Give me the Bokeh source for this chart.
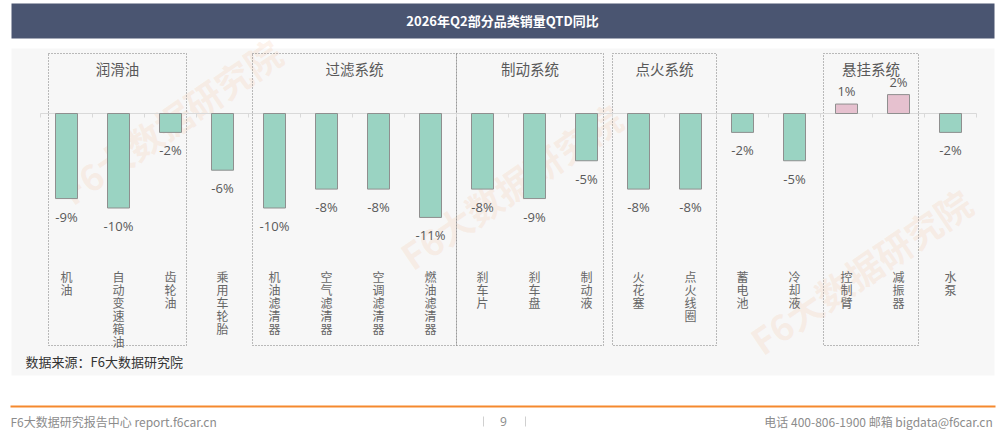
# 2026年Q2部分品类销量QTD同比 - bar chart recreated with Bokeh

from bokeh.plotting import figure
from bokeh.models import ColumnDataSource, Range1d
from bokeh.embed import file_html
from bokeh.resources import INLINE
from bokeh.core.properties import value

categories = ["机油", "自动变速箱油", "齿轮油", "乘用车轮胎", "机油滤清器", "空气滤清器",
              "空调滤清器", "燃油滤清器", "刹车片", "刹车盘", "制动液", "火花塞",
              "点火线圈", "蓄电池", "冷却液", "控制臂", "减振器", "水泵"]
yoy = [-9.0, -10.0, -2.0, -6.0, -10.0, -8.0, -8.0, -11.0, -8.0, -9.0, -5.0, -8.0,
       -8.0, -2.0, -5.0, 1.0, 2.0, -2.0]

group_names = ["润滑油", "过滤系统", "制动系统", "点火系统", "悬挂系统"]
group_first = [0, 4, 8, 11, 15]
group_last = [2, 7, 10, 12, 16]
# small hand-drawn insets of the boxes (px, left / right)
group_inset_l = [8, 4, 0, 0, 3]
group_inset_r = [10, 0, 9, 0, 6]

title = "2026年Q2部分品类销量QTD同比"
source_note = "数据来源：F6大数据研究院"
footer_left = "F6大数据研究报告中心 report.f6car.cn"
footer_right = "电话 400-806-1900  邮箱 bigdata@f6car.cn"
page_no = "9"
watermark = "F6大数据研究院"

W, H = 1000, 439
STEP = 52.0      # px per category
PCT = 9.45       # px per 1 %
X_FIRST = 66     # page x of first bar
Y_ZERO = 113     # page y of the zero line
CHAR_H = 13      # px per stacked character in the vertical labels
FONT = "Noto Sans CJK SC"


def fx(px):
    return (px - X_FIRST) / STEP


def fy(py):
    return (Y_ZERO - py) / PCT


p = figure(width=W, height=H, output_backend="svg", toolbar_location=None,
           x_range=Range1d(fx(0), fx(W)), y_range=Range1d(fy(H), fy(0)),
           min_border=0, outline_line_color=None, background_fill_color="white",
           border_fill_color="white")
p.axis.visible = False
p.grid.visible = False

# panel + title bar
p.quad(left=fx(11), right=fx(994), top=fy(48), bottom=fy(375),
       fill_color="#f7f7f7", line_color=None)
p.quad(left=fx(11), right=fx(994), top=fy(3), bottom=fy(38),
       fill_color="#4a5571", line_color=None)
p.text(x=[fx(502)], y=[fy(20)], text=[title], text_color="white",
       text_font=value(FONT), text_font_size="13px", text_font_style="bold",
       text_align="center", text_baseline="middle")

# watermarks
wm_x = [fx(170), fx(510), fx(860)]
wm_y = [fy(120), fy(185), fy(270)]
p.text(x=wm_x, y=wm_y, text=[watermark] * 3, angle=0.6,
       text_color="#f3b48a", text_alpha=0.17, text_font=value(FONT),
       text_font_size="36px", text_font_style="bold",
       text_align="center", text_baseline="middle")

# group boxes
gl = [f - 0.5 + il / STEP for f, il in zip(group_first, group_inset_l)]
gr = [l + 0.5 - ir / STEP for l, ir in zip(group_last, group_inset_r)]
p.quad(left=gl, right=gr, top=fy(53), bottom=fy(345), fill_color=None,
       line_color="#7a7a7a", line_width=1, line_dash="1 2")
p.text(x=[(a + b) / 2 for a, b in zip(gl, gr)], y=fy(68), text=group_names,
       text_color="#595959", text_font=value(FONT), text_font_size="14.5px",
       text_align="center", text_baseline="middle")

# zero axis with ticks between categories
n = len(categories)
p.segment(x0=-0.5, y0=0, x1=n - 0.5, y1=0, line_color="#d9d9d9", line_width=1)
p.segment(x0=[i - 0.5 for i in range(n + 1)], y0=0,
          x1=[i - 0.5 for i in range(n + 1)], y1=-4 / PCT,
          line_color="#d9d9d9", line_width=1)

# bars
xs = list(range(n))
colors = ["#e6c1cf" if v > 0 else "#9ad3c2" for v in yoy]
src = ColumnDataSource(dict(x=xs, top=yoy, color=colors))
p.vbar(x="x", top="top", bottom=0, width=22 / STEP, fill_color="color",
       line_color="#8f8f8f", line_width=1, source=src)

neg = ColumnDataSource(dict(x=[x for x, v in zip(xs, yoy) if v < 0],
                            y=[v for v in yoy if v < 0],
                            t=[f"{v:.0f}%" for v in yoy if v < 0]))
pos = ColumnDataSource(dict(x=[x for x, v in zip(xs, yoy) if v > 0],
                            y=[v for v in yoy if v > 0],
                            t=[f"{v:.0f}%" for v in yoy if v > 0]))
p.text(x="x", y="y", text="t", source=neg, y_offset=9, text_color="#595959",
       text_font=value("Open Sans"), text_font_size="13px",
       text_align="center", text_baseline="top")
p.text(x="x", y="y", text="t", source=pos, y_offset=-4, text_color="#595959",
       text_font=value("Open Sans"), text_font_size="13px",
       text_align="center", text_baseline="bottom")

# vertical category labels, one character per row
cx, cy, ct = [], [], []
for i, name in enumerate(categories):
    for k, ch in enumerate(name):
        cx.append(i)
        cy.append(fy(267 + CHAR_H * k))
        ct.append(ch)
p.text(x=cx, y=cy, text=ct, text_color="#666666", text_font=value(FONT),
       text_font_size="12px", text_align="center", text_baseline="top")

# source note
p.text(x=[fx(25)], y=[fy(361)], text=[source_note], text_color="#333333",
       text_font=value(FONT), text_font_size="13px",
       text_align="left", text_baseline="middle")

# footer
p.segment(x0=fx(10), y0=fy(406), x1=fx(995), y1=fy(406),
          line_color="#f5892e", line_width=2)
p.text(x=[fx(10)], y=[fy(421)], text=[footer_left], text_color="#8c8c8c",
       text_font=value(FONT), text_font_size="12px",
       text_align="left", text_baseline="middle")
p.text(x=[fx(503)], y=[fy(421)], text=[page_no], text_color="#8c8c8c",
       text_font=value("Open Sans"), text_font_size="12px",
       text_align="center", text_baseline="middle")
p.segment(x0=[fx(483), fx(525)], y0=fy(416), x1=[fx(483), fx(525)], y1=fy(426),
          line_color="#d0d0d0", line_width=1)
p.text(x=[fx(995)], y=[fy(421)], text=[footer_right], text_color="#8c8c8c",
       text_font=value(FONT), text_font_size="12px",
       text_align="right", text_baseline="middle")

open("out.html", "w").write(file_html(p, INLINE))
